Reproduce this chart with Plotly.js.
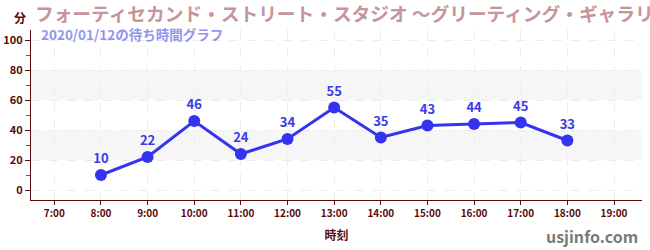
<!DOCTYPE html>
<html><head><meta charset="utf-8">
<script src="https://cdn.plot.ly/plotly-3.0.1.min.js"></script>
<style>html,body{margin:0;padding:0;background:#fff}#c{width:650px;height:250px}</style>
</head><body><div id="c"></div>
<script>
const hours = [8, 9, 10, 11, 12, 13, 14, 15, 16, 17, 18];
const waits = [10, 22, 46, 24, 34, 55, 35, 43, 44, 45, 33];
const tickHours = [7, 8, 9, 10, 11, 12, 13, 14, 15, 16, 17, 18, 19];
const tickLabels = ["7:00","8:00","9:00","10:00","11:00","12:00","13:00","14:00","15:00","16:00","17:00","18:00","19:00"];
const yTicks = [0, 20, 40, 60, 80, 100];
const bands = [[20, 40], [60, 80]];
const titleText = "フォーティセカンド・ストリート・スタジオ 〜グリーティング・ギャラリー〜";
const subtitleText = "2020/01/12の待ち時間グラフ";

const F = '"Noto Sans CJK JP", "Noto Sans", sans-serif';
const dark = '#5a0a0a';

const shapes = bands.map(b => ({type:'rect', xref:'paper', yref:'y', x0:0, x1:1, y0:b[0], y1:b[1], fillcolor:'#f6f6f6', line:{width:0}, layer:'below'}));

const trace = {
  x: hours, y: waits, mode: 'lines+markers+text', type: 'scatter',
  text: waits.map(String), textposition: 'top center',
  textfont: {family: F, size: 13, color: '#3a3ae8', weight: 'bold'},
  line: {color: '#3434f0', width: 3},
  marker: {color: '#3434f0', size: 12},
  hoverinfo: 'none', cliponaxis: false
};

const layout = {
  width: 650, height: 250,
  margin: {l: 31, r: 8, t: 30, b: 50},
  paper_bgcolor: '#fff', plot_bgcolor: '#fff',
  showlegend: false,
  shapes: shapes,
  xaxis: {
    range: [6.5, 19.6], tickvals: tickHours, ticktext: tickLabels,
    showgrid: true, gridcolor: '#ececec', griddash: 'dash', gridwidth: 1,
    zeroline: false, showline: true, linecolor: dark, linewidth: 1,
    ticks: 'outside', ticklen: 4, tickcolor: dark,
    tickfont: {family: F, size: 10, color: dark, weight: 'bold'},
    title: {text: '時刻', font: {family: F, size: 12, color: dark, weight: 'bold'}, standoff: 12},
    fixedrange: true
  },
  yaxis: {
    range: [-6.67, 106.67], tickvals: yTicks,
    showgrid: true, gridcolor: '#ececec', griddash: 'dash', gridwidth: 1,
    zeroline: false, showline: true, linecolor: dark, linewidth: 1,
    ticks: 'outside', ticklen: 5, tickcolor: dark,
    tickfont: {family: F, size: 11, color: dark, weight: 'bold'},
    minor: {tickvals: [10, 30, 50, 70, 90], ticks: 'outside', ticklen: 4, tickcolor: '#dd2222', showgrid: false},
    fixedrange: true
  },
  annotations: [
    {xref:'paper', yref:'paper', x: -0.005, y: 1, xanchor:'right', yanchor:'bottom', yshift: 2, xshift: 0, text: '分', showarrow:false, font:{family:F, size:12, color: dark, weight:'bold'}},
    {xref:'paper', yref:'paper', x: 0, y: 1, xanchor:'left', yanchor:'bottom', xshift: 2, yshift: 2, text: titleText, showarrow:false, font:{family:F, size:18.7, color:'#c4959a', weight:'bold'}},
    {xref:'paper', yref:'paper', x: 0, y: 1, xanchor:'left', yanchor:'top', xshift: 8, yshift: 8, text: subtitleText, showarrow:false, font:{family:F, size:13.5, color:'#9494ee', weight:'bold'}},
    {xref:'paper', yref:'paper', x: 1, y: 0, xanchor:'right', yanchor:'top', xshift: -2, yshift: -22, text: 'usjinfo.com', showarrow:false, font:{family:F, size:16, color:'#7a7a7a', weight:'bold'}}
  ]
};
Plotly.newPlot('c', [trace], layout, {displayModeBar: false, staticPlot: true});
</script></body></html>
